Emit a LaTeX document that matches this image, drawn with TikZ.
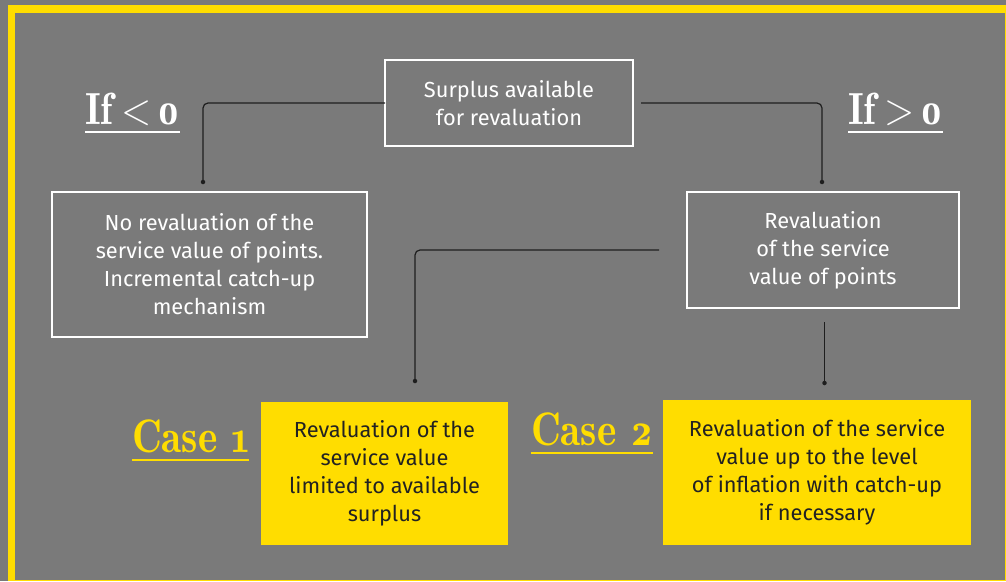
\documentclass[tikz,border=0pt]{standalone}
\usepackage{fontspec}
\newfontfamily\bodyfont{Fira Sans}
\newfontfamily\headserif{lmromandemi10-regular.otf}[Numbers=OldStyle]
\newfontfamily\headthin{Latin Modern Roman}
\usetikzlibrary{calc}

\definecolor{panel}{RGB}{122,122,122}
\definecolor{sun}{RGB}{255,221,0}
\definecolor{wire}{RGB}{30,30,30}
\definecolor{ink}{RGB}{34,34,34}

\tikzset{
  outline/.style={draw=white, line width=2pt, text=white, align=center,
    inner sep=0pt, outer sep=0pt, font=\bodyfont\fontsize{21.8}{28}\selectfont},
  filled/.style={fill=sun, text=ink, align=center, inner sep=0pt, outer sep=0pt,
    font=\bodyfont\fontsize{21.8}{28}\selectfont},
  heading/.style={anchor=base west, inner sep=0pt, outer sep=0pt,
    font=\headserif\fontsize{45}{50}\selectfont},
  casehead/.style={heading, font=\headserif\fontsize{47}{52}\selectfont},
  rule/.style={line width=2.6pt},
  link/.style={draw=wire, line width=1.2pt, rounded corners=5pt},
  tip/.style={fill=wire, circle, inner sep=0pt, minimum size=4.5pt},
}

\begin{document}
\begin{tikzpicture}[x=1pt, y=-1pt]
  \useasboundingbox (0,0) rectangle (1006,581);
  \fill[panel] (0,0) rectangle (1006,581);
  % yellow frame
  \fill[sun] (8,5) rectangle (1006,581);
  \fill[panel] (15,13) rectangle (1005,579.5);

  % boxes
  \node[outline, minimum width=248pt, minimum height=86pt] (top) at (509,103)
    {Surplus available\\for revaluation};
  \node[outline, minimum width=315pt, minimum height=145pt] (none) at (209.5,264.5)
    {No revaluation of the\\service value of points.\\Incremental catch-up\\mechanism};
  \node[outline, minimum width=272pt, minimum height=116pt] (rev) at (823,250)
    {Revaluation\\of the service\\value of points};
  \node[filled, minimum width=247pt, minimum height=143pt] (c1) at (384.5,473.5)
    {Revaluation of the\\service value\\limited to available\\surplus};
  \node[filled, minimum width=308pt, minimum height=145pt] (c2) at (817,472.5)
    {Revaluation of the service\\value up to the level\\of inflation with catch-up\\if necessary};

  % connector ends
  \coordinate (e1) at (203,182);
  \coordinate (e2) at (822,182);
  \coordinate (e3) at (415,381);
  \coordinate (e4) at (824.5,383);

  \draw[link] (top.west) -| (e1);
  \draw[link] ([xshift=8pt]top.east) -| (e2);
  \draw[link] ([xshift=-28pt]rev.west) -| (e3);
  \draw[link] ([yshift=-14pt]rev.south -| e4) -- (e4);
  \foreach \e in {e1,e2,e3,e4} \node[tip] at (\e) {};

  % headings
  \node[heading, text=white] (lt) at (85,124)
    {\scalebox{0.88}[1]{If\hspace{10pt}{\headthin<}\hspace{6pt}0}};
  \node[heading, text=white] (gt) at (848,124)
    {\scalebox{0.88}[1]{If\hspace{10pt}{\headthin>}\hspace{6pt}0}};
  \node[casehead, text=sun] (k1) at (132,452)
    {\scalebox{0.88}[1]{Case 1}};
  \node[casehead, text=sun] (k2) at (531,445)
    {\scalebox{0.88}[1]{Case 2}};

  \draw[rule, white] ([yshift=-8pt]lt.base west) -- ([yshift=-8pt]lt.base east);
  \draw[rule, white] ([yshift=-8pt]gt.base west) -- ([yshift=-8pt]gt.base east);
  \draw[rule, sun] ([yshift=-8pt]k1.base west) -- ([yshift=-8pt]k1.base east);
  \draw[rule, sun] ([yshift=-8pt]k2.base west) -- ([yshift=-8pt]k2.base east);
\end{tikzpicture}
\end{document}
